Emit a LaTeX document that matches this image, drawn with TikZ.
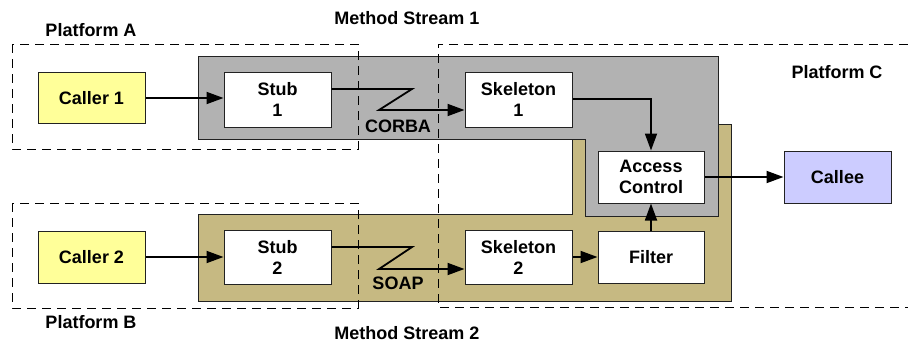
\documentclass[tikz,border=0pt]{standalone}
\usepackage{fontspec}
\setmainfont{Liberation Sans}
\usetikzlibrary{arrows.meta}
\definecolor{callerfill}{HTML}{FFFF99}
\definecolor{calleefill}{HTML}{CCCCFF}
\definecolor{streamgray}{HTML}{B2B2B2}
\definecolor{streamtan}{HTML}{C6B982}
\definecolor{edgegray}{HTML}{222222}
\begin{document}
\begin{tikzpicture}[x=1pt,y=-1pt,
  every node/.style={font=\fontsize{18}{21.5}\selectfont\bfseries},
  box/.style={draw=edgegray, line width=1pt, fill=white, minimum width=107pt, minimum height=54pt, inner sep=0pt, align=center},
  callerbox/.style={box, fill=callerfill},
  calleebox/.style={box, fill=calleefill},
  flow/.style={line width=1.8pt, -{Triangle[length=17pt,width=12pt]}},
  platform/.style={dash pattern=on 9pt off 6pt, line width=1pt, draw=black},
  region/.style={draw=edgegray, line width=1pt},
  lbl/.style={inner sep=0pt}
]
\useasboundingbox (0,0) rectangle (908,343);
% method stream regions
\draw[region, fill=streamtan] (198,214) -- (572,214) -- (572,124) -- (731,124) -- (731,301) -- (198,301) -- cycle;
\draw[region, fill=streamgray] (198,56) -- (718,56) -- (718,216) -- (585,216) -- (585,139) -- (198,139) -- cycle;
% platforms
\draw[platform] (12,44) rectangle (358,149);
\draw[platform] (12,203) rectangle (358,308);
\draw[platform] (908,44) -- (438,44) -- (438,307) -- (908,307);
% nodes
\node[callerbox, minimum height=51pt] (caller1) at (91.5,98) {Caller 1};
\node[box, minimum height=55pt] (stub1) at (277.5,99.5) {Stub\\1};
\node[box, minimum height=55pt] (skel1) at (518.5,99.5) {Skeleton\\1};
\node[box, minimum width=106pt, minimum height=52pt] (access) at (651,177) {Access\\Control};
\node[calleebox, minimum height=52pt] (callee) at (837.5,177) {Callee};
\node[callerbox, minimum height=52pt] (caller2) at (91.5,257) {Caller 2};
\node[box] (stub2) at (277.5,257.5) {Stub\\2};
\node[box] (skel2) at (518.5,257.5) {Skeleton\\2};
\node[box, minimum width=106pt, minimum height=52pt] (filter) at (651,257) {Filter};
% zigzag coordinates
\coordinate (z1a) at (412,89);
\coordinate (z1b) at (379,110);
\coordinate (z2a) at (412,247);
\coordinate (z2b) at (379,269);
\coordinate (k1) at (651,99);
% connectors
\draw[flow] (caller1.east) -- (caller1.east -| stub1.west);
\draw[flow] (stub1.east |- z1a) -- (z1a) -- (z1b) -- (z1b -| skel1.west);
\draw[flow] (skel1.east |- k1) -- (k1) -- (access.north);
\draw[flow] (access.east) -- (callee.west);
\draw[flow] (caller2.east) -- (caller2.east -| stub2.west);
\draw[flow] (stub2.east |- z2a) -- (z2a) -- (z2b) -- (z2b -| skel2.west);
\draw[flow] (skel2.east |- filter.west) -- (filter.west);
\draw[flow] (filter.north) -- (access.south);
% labels
\node[lbl] (corba) at (398,126) {CORBA};
\node[lbl] (soap) at (398,283) {SOAP};
\node[lbl] (ms1) at (407,18) {Method Stream 1};
\node[lbl] (ms2) at (407,333) {Method Stream 2};
\node[lbl] (pa) at (91,30) {Platform A};
\node[lbl] (pb) at (91,322) {Platform B};
\node[lbl] (pc) at (837,72) {Platform C};
\end{tikzpicture}
\end{document}
